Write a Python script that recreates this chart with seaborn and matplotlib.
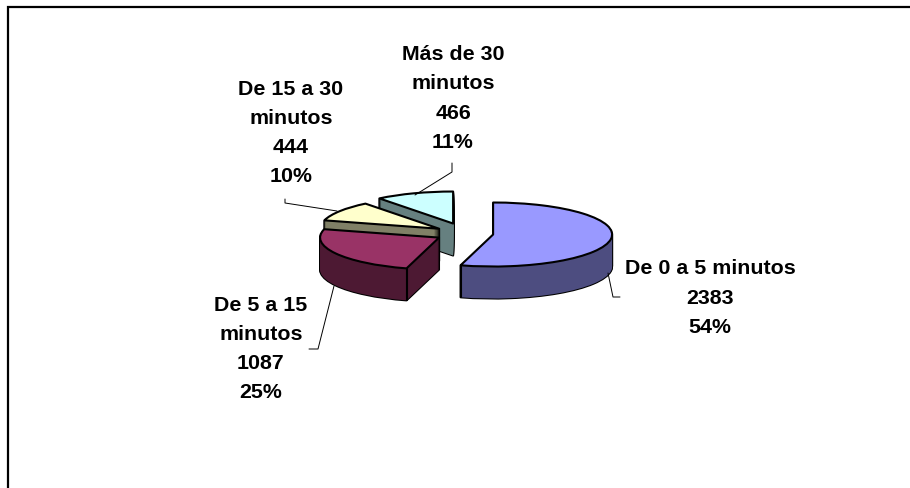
import numpy as np
import seaborn as sns
import matplotlib
matplotlib.use("Agg")
import matplotlib.pyplot as plt

categorias = ["De 0 a 5 minutos", "De 5 a 15\nminutos", "De 15 a 30\nminutos", "Más de 30\nminutos"]
valores = [2383, 1087, 444, 466]
colores_top = ["#9999FF", "#993366", "#FFFFCC", "#CCFFFF"]
colores_lado = ["#4D4D80", "#4D1933", "#808066", "#668080"]
explode = [0.23, 0.26, 0.27, 0.33]
# orden de dibujo, el cian queda detras
orden = [4, 3, 2, 1]

# pixel geometry of the squashed pie
W, H = 910, 488
CX, CY = 466, 233.5
RX, RY = 119, 32
capas = 32

sns.set_theme(style="white")
plt.rcParams["font.family"] = ["Liberation Sans", "DejaVu Sans"]

fig = plt.figure(figsize=(W / 100, H / 100), dpi=100, facecolor="white")
ax = fig.add_axes([0, 0, 1, 1])


def tarta(dy, colors, **kw):
    wedges, _ = ax.pie(valores, explode=explode, colors=colors, startangle=90,
                       counterclock=False, center=(0, dy), radius=1, **kw)
    return wedges


# side walls: black pass for the outline, then the fill over it
for k in range(capas, 0, -1):
    dy = -k / RY
    for w, o in zip(tarta(dy, colores_lado, wedgeprops=dict(edgecolor="black", linewidth=1.5, joinstyle="round")), orden):
        w.set_zorder(o * 10 + 1)
    for w, o in zip(tarta(dy, colores_lado, wedgeprops=dict(linewidth=0)), orden):
        w.set_zorder(o * 10 + 2)

top = tarta(0, colores_top, wedgeprops=dict(edgecolor="black", linewidth=1.5, joinstyle="round"))
for w, o in zip(top, orden):
    w.set_zorder(o * 10 + 4)
    # front corner of each slice
    for ang in (w.theta1, w.theta2):
        a = np.deg2rad(ang)
        if np.sin(a) < 0:
            x = w.center[0] + np.cos(a)
            y = w.center[1] + np.sin(a)
            ax.plot([x, x], [y, y - capas / RY], color="black", lw=1.5, zorder=o * 10 + 3)

ax.set_aspect("auto")
ax.set_xlim(-CX / RX, (W - CX) / RX)
ax.set_ylim((CY - H) / RY, CY / RY)
ax.axis("off")

# overlay in pixels for frame, leaders and labels
ov = fig.add_axes([0, 0, 1, 1])
ov.set_xlim(0, W)
ov.set_ylim(H, 0)
ov.axis("off")
ov.patch.set_alpha(0)

ov.plot([8, 8, W], [H, 7, 7], color="black", lw=1.6, solid_joinstyle="miter")

lideres = [
    ([608, 613, 620], [273, 297, 297]),
    ([334, 318, 309], [286, 349, 349]),
    ([337, 285, 285], [211, 203, 199]),
    ([415, 452, 452], [195, 172, 163]),
]
for xs, ys in lideres:
    ov.plot(xs, ys, color="black", lw=0.7)

pos_x = [710, 261, 291, 453]
pos_y = [298, 349, 133, 98.5]
total = sum(valores)
for cat, val, px, py in zip(categorias, valores, pos_x, pos_y):
    pct = round(val / total * 100)
    ov.text(px, py, f"{cat}\n{val}\n{pct}%", ha="center", va="center", multialignment="center",
            fontsize=15.4, fontweight="bold", color="black", linespacing=1.68)

fig.savefig("out.png", dpi=100)
